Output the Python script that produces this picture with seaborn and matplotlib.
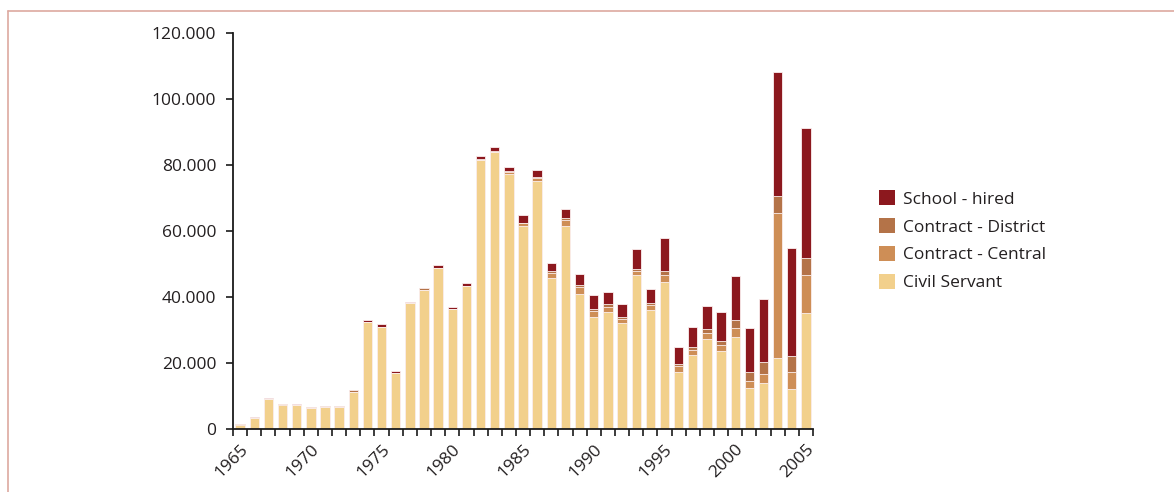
import numpy as np
import pandas as pd
import seaborn as sns
import matplotlib.pyplot as plt
from matplotlib.lines import Line2D
from matplotlib.ticker import FuncFormatter, FixedLocator

years = [str(y) for y in range(1965, 2006)]

civil = [1.2, 3.3, 9.0, 7.3, 7.2, 6.3, 6.6, 6.6, 11.2, 32.5,
         31.0, 17.1, 38.1, 42.1, 48.9, 36.3, 43.3, 81.5, 83.9, 77.4,
         61.5, 75.2, 45.8, 61.5, 40.9, 33.9, 35.5, 32.1, 46.7, 36.1,
         44.4, 17.4, 22.5, 27.4, 23.6, 27.9, 12.4, 13.8, 21.5, 12.1,
         35.2]
central = [0.4, 0, 0, 0.4, 0, 0, 0, 0, 0, 0,
           0, 0, 0, 0, 0, 0, 0, 0, 0, 0.6,
           0.9, 0.9, 1.6, 1.7, 2.2, 2.0, 1.4, 1.3, 1.3, 1.4,
           2.3, 1.6, 1.4, 1.6, 1.9, 2.6, 2.0, 2.8, 44.0, 5.1,
           11.4]
district = [0, 0, 0, 0, 0, 0.5, 0.5, 0.5, 0.6, 0,
            0, 0, 0, 0.6, 0, 0, 0, 0.2, 0.3, 0.2,
            0.1, 0.4, 0.4, 0.6, 0.5, 0.4, 1.0, 0.5, 0.4, 0.7,
            1.2, 0.6, 1.0, 1.3, 1.2, 2.4, 2.8, 3.6, 5.2, 4.9,
            5.3]
school = [0, 0.4, 0.5, 0, 0.5, 0, 0, 0, 0, 0.5,
          0.8, 0.5, 0.4, 0, 0.7, 0.7, 0.9, 0.9, 1.2, 1.3,
          2.4, 1.9, 2.5, 2.8, 3.4, 4.2, 3.7, 3.9, 6.1, 4.1,
          9.9, 5.2, 5.9, 7.1, 8.7, 13.6, 13.3, 19.1, 37.6, 32.7,
          39.2]

series = ['Civil Servant', 'Contract - Central', 'Contract - District', 'School - hired']
colors = ['#F2D08C', '#CE8E56', '#B47348', '#8C181E']

df = pd.DataFrame({'year': years,
                   'Civil Servant': np.array(civil) * 1000,
                   'Contract - Central': np.array(central) * 1000,
                   'Contract - District': np.array(district) * 1000,
                   'School - hired': np.array(school) * 1000})
cum = df[series].cumsum(axis=1)

sns.set_style('white')
plt.rcParams['font.family'] = ['Open Sans', 'DejaVu Sans']

fig = plt.figure(figsize=(11.74, 4.92), dpi=100)
ax = fig.add_axes([0.1985, 0.128, 0.494, 0.805])

# draw from top of stack down so each layer covers the one below
for name, col in reversed(list(zip(series, colors))):
    sns.barplot(x=df['year'], y=cum[name], color=col, order=years, ax=ax,
                width=0.66, edgecolor='#FBEFEF', linewidth=0.6, saturation=1,
                label=name)

ax.set_xlim(-0.5, 40.5)
ax.set_ylim(0, 120000)
ax.set_xlabel('')
ax.set_ylabel('')
sns.despine(ax=ax)
for s in ['left', 'bottom']:
    ax.spines[s].set_color('#1a1a1a')
    ax.spines[s].set_linewidth(1.3)

ax.set_yticks(range(0, 120001, 20000))
ax.yaxis.set_major_formatter(FuncFormatter(lambda v, p: f'{int(v):,}'.replace(',', '.')))
ax.tick_params(axis='y', length=5, width=1.2, color='#1a1a1a', labelsize=12.5,
               labelcolor='#231f20', pad=7, left=True)

ax.set_xticks(range(0, 41, 5))
ax.set_xticklabels(years[::5], rotation=45, ha='right', rotation_mode='anchor')
ax.xaxis.set_minor_locator(FixedLocator(np.arange(-0.5, 41, 1)))
ax.tick_params(axis='x', which='major', length=0, labelsize=12.5,
               labelcolor='#231f20', pad=9)
ax.tick_params(axis='x', which='minor', length=5, width=1.2, color='#1a1a1a',
               bottom=True)

handles, labels = ax.get_legend_handles_labels()
leg = ax.legend(handles, labels, loc='center left', bbox_to_anchor=(1.087, 0.475),
                frameon=False, fontsize=12.5, handlelength=0.9, handleheight=0.9,
                handletextpad=0.5, labelspacing=0.62, labelcolor='#231f20')
for h in leg.legend_handles:
    h.set_edgecolor('none')

# panel border
bc = '#DDA9A0'
fig.add_artist(Line2D([8 / 1174, 1.0], [1 - 11 / 492, 1 - 11 / 492], color=bc, lw=1.2,
                      transform=fig.transFigure))
fig.add_artist(Line2D([8 / 1174, 8 / 1174], [0, 1 - 11 / 492], color=bc, lw=1.2,
                      transform=fig.transFigure))

fig.savefig('out.png', dpi=100)
